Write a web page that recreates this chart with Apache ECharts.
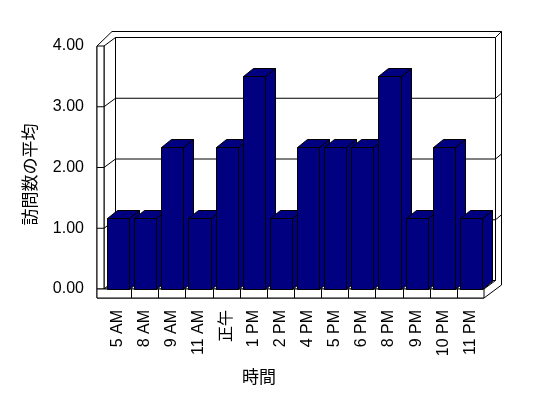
<!DOCTYPE html>
<html>
<head>
<meta charset="utf-8">
<script src="https://cdn.jsdelivr.net/npm/echarts@6/dist/echarts.min.js"></script>
<style>
  html, body { margin: 0; padding: 0; background: #fff; }
  #chart { width: 548px; height: 398px; }
</style>
</head>
<body>
<div id="chart"></div>
<script>
// 時間ごとの訪問数の平均
var categories = ['5 AM', '8 AM', '9 AM', '11 AM', '正午', '1 PM', '2 PM', '4 PM', '5 PM', '6 PM', '8 PM', '9 PM', '10 PM', '11 PM'];
var visits = [1.17, 1.17, 2.33, 1.17, 2.33, 3.5, 1.17, 2.33, 2.33, 2.33, 3.5, 1.17, 2.33, 1.17];
var yTicks = [0, 1, 2, 3, 4];

var FONT = "'Liberation Sans', 'Noto Sans CJK JP', sans-serif";
// 奥行き (depth offsets)
var DX = 11.5, DY = -8.5;     // inner back plane
var BAR_DX = 10, BAR_DY = -8; // bar depth
var WALL = 7, FLOOR = 9;

// walls + floor + gridlines
function renderFrame(params, api) {
  var cs = params.coordSys;
  var L = cs.x, R = cs.x + cs.width, T = cs.y, B = cs.y + cs.height;
  var st = { fill: '#fff', stroke: '#000', lineWidth: 1 };
  var ln = { fill: 'none', stroke: '#000', lineWidth: 1 };
  var kids = [];
  // outer silhouette
  kids.push({ type: 'polygon', shape: { points: [
    [L - WALL, T], [L - WALL + 15, T - 14.5], [R + 17.5, T - 14.5], [R + 17.5, B - 4],
    [R, B + FLOOR], [L - WALL, B + FLOOR]] }, style: st });
  // back wall inner face
  kids.push({ type: 'rect', shape: { x: L + DX, y: T + DY, width: R - L, height: B - T }, style: st });
  // left wall inner face
  kids.push({ type: 'polygon', shape: { points: [[L, T], [L + DX, T + DY], [L + DX, B + DY], [L, B]] }, style: st });
  // left wall front
  kids.push({ type: 'rect', shape: { x: L - WALL, y: T, width: WALL, height: B - T }, style: st });
  // floor top
  kids.push({ type: 'polygon', shape: { points: [[L, B], [L + DX, B + DY], [R + DX, B + DY], [R, B]] }, style: st });
  // floor front
  kids.push({ type: 'rect', shape: { x: L - WALL, y: B, width: R - L + WALL, height: FLOOR }, style: st });
  // top right corner
  kids.push({ type: 'line', shape: { x1: R + DX, y1: T + DY, x2: R + 17.5, y2: T - 14.5 }, style: ln });
  // category ticks on floor front
  var step = cs.width / categories.length;
  for (var i = 1; i < categories.length; i++) {
    var x = Math.round(L + i * step) + 0.5;
    kids.push({ type: 'line', shape: { x1: x, y1: B, x2: x, y2: B + FLOOR }, style: ln });
  }
  // gridlines
  yTicks.forEach(function (v) {
    var y = api.coord([0, v])[1];
    if (v > 0 && v < 4) {
      kids.push({ type: 'polyline', shape: { points: [
        [L - WALL, y], [L, y], [L + DX, y + DY], [R + DX, y + DY], [R + 17.5, y + DY - 5]] }, style: ln });
    }
  });
  return { type: 'group', children: kids };
}

function renderBar(params, api) {
  var c = api.coord([api.value(0), api.value(1)]);
  var base = api.coord([api.value(0), 0]);
  var band = api.size([1, 0])[0];
  var x0 = Math.round(c[0] - band / 2 + 3) + 0.5;
  var x1 = Math.round(c[0] + band / 2 - 2) + 0.5;
  var yt = Math.round(c[1]) + 0.5, yb = Math.round(base[1]) + 0.5;
  var st = { fill: '#000080', stroke: '#000', lineWidth: 1 };
  return {
    type: 'group',
    z2: params.dataIndex,
    children: [
      { type: 'polygon', shape: { points: [[x1, yt], [x1 + BAR_DX, yt + BAR_DY], [x1 + BAR_DX, yb + BAR_DY], [x1, yb]] }, style: st },
      { type: 'polygon', shape: { points: [[x0, yt], [x1, yt], [x1 + BAR_DX, yt + BAR_DY], [x0 + BAR_DX, yt + BAR_DY]] }, style: st },
      { type: 'rect', shape: { x: x0, y: yt, width: x1 - x0, height: yb - yt }, style: st }
    ]
  };
}

var chart = echarts.init(document.getElementById('chart'));
chart.setOption({
  animation: false,
  backgroundColor: '#fff',
  grid: { left: 104, top: 46, width: 380, height: 243 },
  xAxis: {
    type: 'category',
    data: categories,
    name: '時間',
    nameLocation: 'middle',
    nameGap: 81,
    nameTextStyle: { fontFamily: FONT, fontSize: 17, color: '#000', padding: [0, 70, 0, 0] },
    axisLine: { show: false },
    axisTick: { show: false },
    axisLabel: { rotate: 90, margin: 21, interval: 0, fontFamily: FONT, fontSize: 16, color: '#000' }
  },
  yAxis: {
    type: 'value',
    min: 0,
    max: 4,
    interval: 1,
    name: '訪問数の平均',
    nameLocation: 'middle',
    nameGap: 64,
    nameTextStyle: { fontFamily: FONT, fontSize: 17, color: '#000', padding: [0, 14, 0, 0] },
    axisLine: { show: false },
    axisTick: { show: false },
    splitLine: { show: false },
    axisLabel: { margin: 20, fontFamily: FONT, fontSize: 16, color: '#000',
      formatter: function (v) { return v.toFixed(2); } }
  },
  series: [
    {
      type: 'custom',
      renderItem: renderFrame,
      data: [[0, 0]],
      silent: true,
      z: 1
    },
    {
      type: 'custom',
      name: '訪問数の平均',
      renderItem: renderBar,
      data: visits.map(function (v, i) { return [i, v]; }),
      z: 2
    }
  ]
});
</script>
</body>
</html>
